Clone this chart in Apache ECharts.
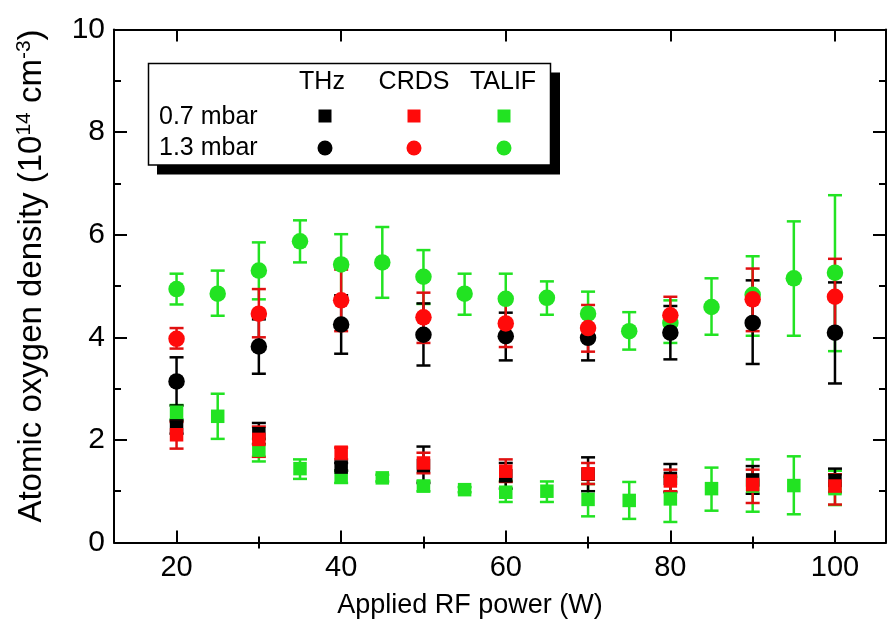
<!DOCTYPE html>
<html>
<head>
<meta charset="utf-8">
<script src="https://cdn.jsdelivr.net/npm/echarts@6/dist/echarts.min.js"></script>
<style>
html,body{margin:0;padding:0;background:#fff;}
#chart{width:888px;height:632px;}
</style>
</head>
<body>
<div id="chart"></div>
<script>
// ---- Data ----
const powerLaser = [20, 30, 40, 50, 60, 70, 80, 90, 100];          // THz & CRDS
const powerTalif = [20, 25, 30, 35, 40, 45, 50, 55, 60, 65, 70, 75, 80, 85, 90, 95, 100];

const thz07     = [2.25, 2.12, 1.47, 1.50, 1.30, 1.33, 1.25, 1.22, 1.21];
const thz07Low  = [2.12, 1.92, 1.40, 1.16, 1.05, 1.00, 0.98, 0.95, 0.98];
const thz07High = [2.38, 2.33, 1.55, 1.87, 1.55, 1.66, 1.53, 1.49, 1.44];

const thz13     = [3.14, 3.82, 4.25, 4.05, 4.02, 3.99, 4.09, 4.28, 4.09];
const thz13Low  = [2.67, 3.29, 3.68, 3.45, 3.55, 3.55, 3.57, 3.48, 3.10];
const thz13High = [3.61, 4.35, 4.82, 4.66, 4.48, 4.42, 4.61, 5.11, 5.07];

const crds07     = [2.10, 2.01, 1.76, 1.55, 1.39, 1.34, 1.20, 1.13, 1.10];
const crds07Low  = [1.83, 1.67, 1.62, 1.35, 1.18, 1.14, 1.00, 0.77, 0.74];
const crds07High = [2.35, 2.26, 1.85, 1.75, 1.62, 1.55, 1.42, 1.42, 1.33];

const crds13     = [3.97, 4.46, 4.72, 4.39, 4.27, 4.18, 4.43, 4.74, 4.79];
const crds13Low  = [3.78, 4.00, 4.12, 3.89, 3.81, 3.72, 4.05, 4.12, 4.04];
const crds13High = [4.18, 4.94, 5.32, 4.87, 4.74, 4.63, 4.79, 5.34, 5.53];

const talif07     = [2.54, 2.46, 1.80, 1.44, 1.28, 1.26, 1.10, 1.03, 0.98, 1.00, 0.84, 0.82, 0.85, 1.05, 1.10, 1.11, 1.05];
const talif07Low  = [2.40, 2.02, 1.58, 1.24, 1.16, 1.19, 1.00, 0.98, 0.79, 0.79, 0.51, 0.46, 0.40, 0.62, 0.60, 0.55, 0.73];
const talif07High = [2.68, 2.90, 2.02, 1.62, 1.40, 1.32, 1.20, 1.08, 1.20, 1.19, 1.14, 1.18, 1.28, 1.46, 1.62, 1.68, 1.40];

const talif13     = [4.94, 4.85, 5.30, 5.87, 5.42, 5.46, 5.18, 4.85, 4.75, 4.77, 4.46, 4.12, 4.28, 4.59, 4.83, 5.15, 5.26];
const talif13Low  = [4.64, 4.42, 4.74, 5.46, 4.78, 4.77, 4.65, 4.44, 4.30, 4.44, 4.00, 3.76, 3.89, 4.05, 4.03, 4.03, 3.73];
const talif13High = [5.24, 5.30, 5.85, 6.28, 6.01, 6.15, 5.70, 5.24, 5.24, 5.09, 4.89, 4.49, 4.72, 5.15, 5.58, 6.26, 6.77];

const xMajorTicks = [20, 40, 60, 80, 100];
const xMinorTicks = [30, 50, 70, 90];
const methodLabels = ['THz', 'CRDS', 'TALIF'];
const pressureLabels = ['0.7 mbar', '1.3 mbar'];

// ---- Styles ----
const FONT = 'Liberation Sans, Arial, sans-serif';
const BLACK = '#000000';
const RED = '#ff0a0a';
const RED_BAR = '#e01010';
const GREEN = '#22e322';

const chart = echarts.init(document.getElementById('chart'), null, {renderer: 'canvas'});

function pts(xs, ys) { return xs.map((x, i) => [x, ys[i]]); }
function errs(xs, lo, hi) { return xs.map((x, i) => [x, lo[i], hi[i]]); }

function errSeries(data, color) {
  return {
    type: 'custom',
    xAxisIndex: 0, yAxisIndex: 0,
    silent: true,
    encode: {x: 0, y: [1, 2]},
    data: data,
    renderItem: function (params, api) {
      const x = api.value(0);
      const p1 = api.coord([x, api.value(1)]);
      const p2 = api.coord([x, api.value(2)]);
      const hw = 7;
      const st = {stroke: color, lineWidth: 2.5};
      return {
        type: 'group',
        children: [
          {type: 'line', shape: {x1: p1[0], y1: p1[1], x2: p2[0], y2: p2[1]}, style: st},
          {type: 'line', shape: {x1: p1[0] - hw, y1: p1[1], x2: p1[0] + hw, y2: p1[1]}, style: st},
          {type: 'line', shape: {x1: p2[0] - hw, y1: p2[1], x2: p2[0] + hw, y2: p2[1]}, style: st}
        ]
      };
    },
    z: 2
  };
}

function markSeries(data, color, symbol) {
  return {
    type: 'scatter',
    xAxisIndex: 0, yAxisIndex: 0,
    symbol: symbol,
    symbolSize: symbol === 'circle' ? 16.5 : 13.5,
    itemStyle: {color: color, opacity: 1},
    emphasis: {disabled: true},
    data: data,
    z: 2
  };
}

const XMIN = 12.4, XMAX = 106.2;
const tickLine = {color: BLACK, width: 2};

const option = {
  animation: false,
  backgroundColor: '#ffffff',
  grid: {left: 114, right: 2, top: 29.5, bottom: 89.5},
  xAxis: [
    {
      type: 'value', position: 'bottom', min: XMIN, max: XMAX,
      name: 'Applied RF power (W)', nameLocation: 'middle', nameGap: 50,
      nameTextStyle: {fontFamily: FONT, fontSize: 27, color: BLACK, padding: [0, 60, 0, 0]},
      axisLine: {onZero: false, lineStyle: {color: BLACK, width: 2}},
      axisTick: {inside: true, length: 12, lineStyle: tickLine, customValues: xMajorTicks},
      axisLabel: {fontFamily: FONT, fontSize: 29, color: BLACK, margin: 11, customValues: xMajorTicks},
      splitLine: {show: false}
    },
    {
      type: 'value', position: 'bottom', offset: 0, min: XMIN, max: XMAX,
      axisLine: {show: false},
      axisTick: {inside: true, length: 6, lineStyle: tickLine, customValues: xMinorTicks},
      axisLabel: {show: false},
      splitLine: {show: false}
    },
    {
      type: 'value', position: 'top', offset: 0, min: XMIN, max: XMAX,
      axisLine: {onZero: false, lineStyle: {color: BLACK, width: 2}},
      axisTick: {inside: true, length: 12, lineStyle: tickLine, customValues: xMajorTicks},
      axisLabel: {show: false},
      splitLine: {show: false}
    },
    {
      type: 'value', position: 'top', offset: 0, min: XMIN, max: XMAX,
      axisLine: {show: false},
      axisTick: {inside: true, length: 6, lineStyle: tickLine, customValues: xMinorTicks},
      axisLabel: {show: false},
      splitLine: {show: false}
    }
  ],
  yAxis: [
    {
      type: 'value', position: 'left', min: 0, max: 10, interval: 2,
      name: '{n|Atomic oxygen density (10}{s|14}{n| cm}{s|-3}{n|)}',
      nameLocation: 'middle', nameGap: 65, nameRotate: 90,
      nameTextStyle: {
        fontFamily: FONT, fontSize: 33, color: BLACK, padding: [0, 0, 0, 20],
        rich: {
          n: {fontFamily: FONT, fontSize: 33, color: BLACK},
          s: {fontFamily: FONT, fontSize: 21, color: BLACK, padding: [0, 0, 14, 0]}
        }
      },
      axisLine: {onZero: false, lineStyle: {color: BLACK, width: 2}},
      axisTick: {inside: true, length: 13, lineStyle: tickLine},
      minorTick: {show: true, splitNumber: 2, length: 7, lineStyle: tickLine},
      axisLabel: {fontFamily: FONT, fontSize: 30, color: BLACK, margin: 9},
      splitLine: {show: false},
      minorSplitLine: {show: false}
    },
    {
      type: 'value', position: 'right', offset: 0, min: 0, max: 10, interval: 2,
      axisLine: {onZero: false, lineStyle: {color: BLACK, width: 2}},
      axisTick: {inside: true, length: 13, lineStyle: tickLine},
      minorTick: {show: true, splitNumber: 2, length: 7, lineStyle: tickLine},
      axisLabel: {show: false},
      splitLine: {show: false},
      minorSplitLine: {show: false}
    }
  ],
  series: [
    errSeries(errs(powerTalif, talif07Low, talif07High), GREEN),
    errSeries(errs(powerTalif, talif13Low, talif13High), GREEN),
    markSeries(pts(powerTalif, talif07), GREEN, 'rect'),
    markSeries(pts(powerTalif, talif13), GREEN, 'circle'),
    errSeries(errs(powerLaser, thz07Low, thz07High), BLACK),
    errSeries(errs(powerLaser, thz13Low, thz13High), BLACK),
    markSeries(pts(powerLaser, thz07), BLACK, 'rect'),
    markSeries(pts(powerLaser, thz13), BLACK, 'circle'),
    errSeries(errs(powerLaser, crds07Low, crds07High), RED_BAR),
    errSeries(errs(powerLaser, crds13Low, crds13High), RED_BAR),
    markSeries(pts(powerLaser, crds07), RED, 'rect'),
    markSeries(pts(powerLaser, crds13), RED, 'circle')
  ],
  graphic: [
    {type: 'rect', z: 100, shape: {x: 157, y: 72.5, width: 403, height: 102}, style: {fill: BLACK}},
    {type: 'rect', z: 101, shape: {x: 148.5, y: 63.5, width: 402, height: 101.5},
      style: {fill: '#ffffff', stroke: BLACK, lineWidth: 1.5}},
    {type: 'text', z: 102, x: 322, y: 82, style: {text: methodLabels[0], font: '25px ' + FONT, fill: BLACK, textAlign: 'center', textVerticalAlign: 'middle'}},
    {type: 'text', z: 102, x: 414, y: 82, style: {text: methodLabels[1], font: '25px ' + FONT, fill: BLACK, textAlign: 'center', textVerticalAlign: 'middle'}},
    {type: 'text', z: 102, x: 503, y: 82, style: {text: methodLabels[2], font: '25px ' + FONT, fill: BLACK, textAlign: 'center', textVerticalAlign: 'middle'}},
    {type: 'text', z: 102, x: 159, y: 117, style: {text: pressureLabels[0], font: '25px ' + FONT, fill: BLACK, textAlign: 'left', textVerticalAlign: 'middle'}},
    {type: 'text', z: 102, x: 159, y: 148, style: {text: pressureLabels[1], font: '25px ' + FONT, fill: BLACK, textAlign: 'left', textVerticalAlign: 'middle'}},
    {type: 'rect', z: 102, shape: {x: 318.5, y: 109.5, width: 13, height: 13}, style: {fill: BLACK}},
    {type: 'rect', z: 102, shape: {x: 407.5, y: 109.5, width: 13, height: 13}, style: {fill: RED}},
    {type: 'rect', z: 102, shape: {x: 497.5, y: 109.5, width: 13, height: 13}, style: {fill: GREEN}},
    {type: 'circle', z: 102, shape: {cx: 325, cy: 148, r: 7.5}, style: {fill: BLACK}},
    {type: 'circle', z: 102, shape: {cx: 414, cy: 148, r: 7.5}, style: {fill: RED}},
    {type: 'circle', z: 102, shape: {cx: 504, cy: 148, r: 7.5}, style: {fill: GREEN}}
  ]
};

chart.setOption(option);
</script>
</body>
</html>
